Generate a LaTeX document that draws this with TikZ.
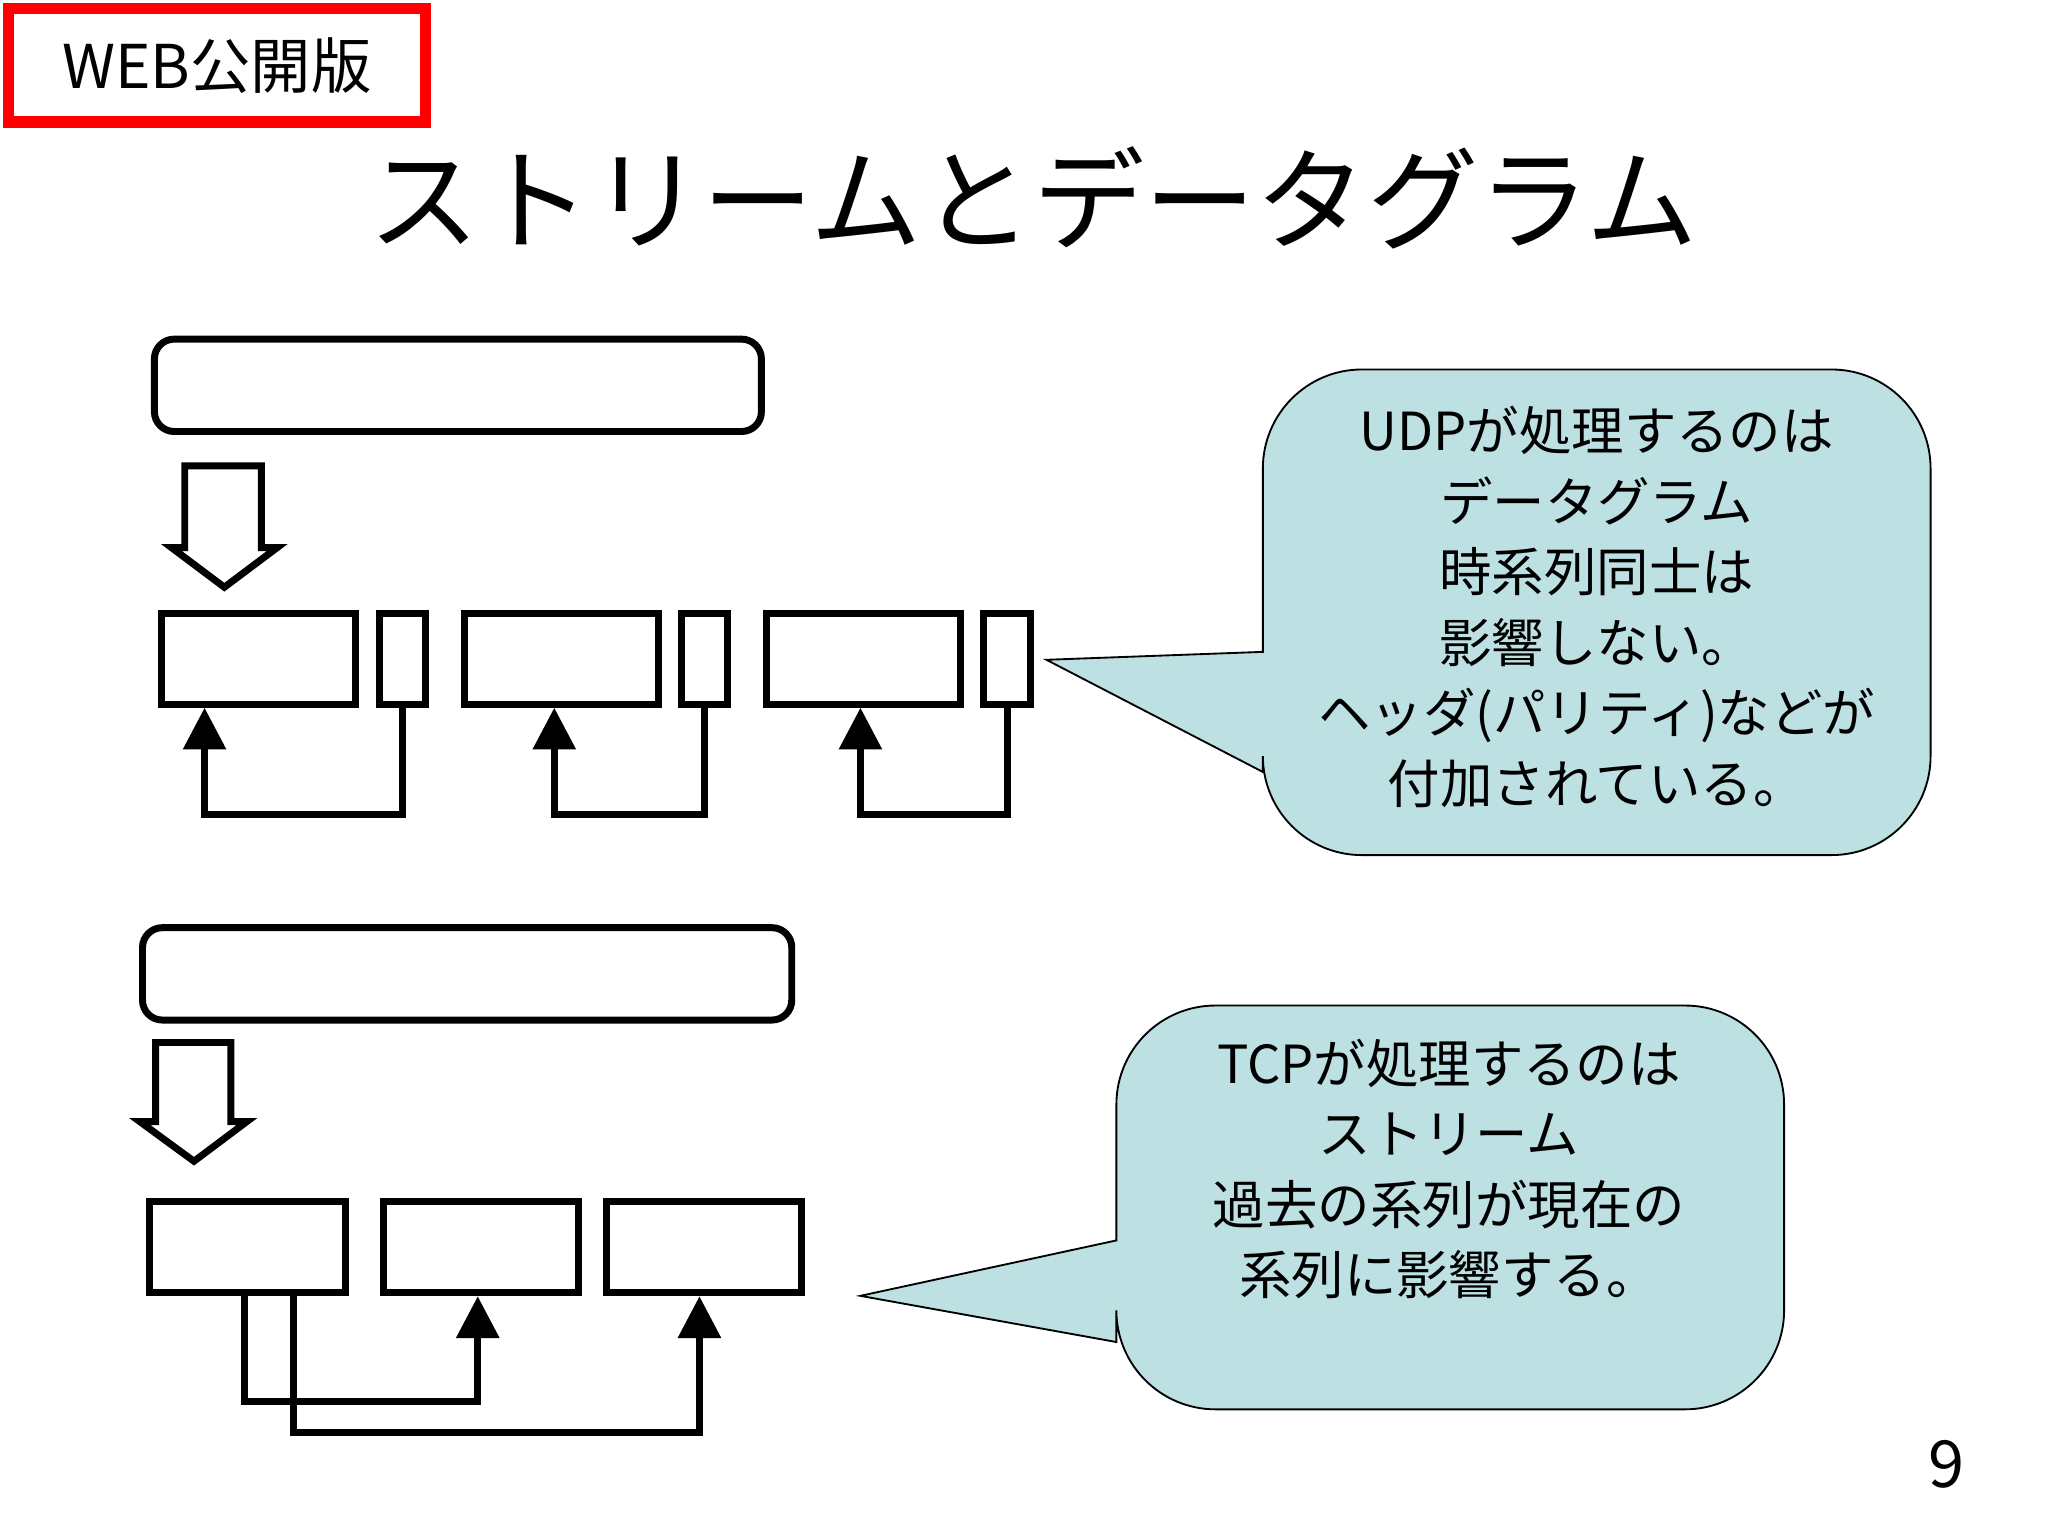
\documentclass[tikz,border=0pt]{standalone}
\usepackage{fontspec}
\setmainfont{Noto Sans CJK JP}
\usetikzlibrary{arrows.meta}
\begin{document}
\begin{tikzpicture}[x=0.01cm,y=-0.01cm,
  thk/.style={line width=1.5pt},
  blk/.style={thk,draw,inner sep=0,anchor=north west,minimum height=0.69cm},
  fb/.style={thk,-{Triangle[length=9pt,width=9pt]}},
  call/.style={draw,thin,fill=calloutblue},
  ctext/.style={align=center,font=\fontsize{11.3}{15.2}\selectfont}]
\definecolor{calloutblue}{HTML}{BDE0E3}
\useasboundingbox (0,0) rectangle (1552,1164);
% WEB label
\node[draw=red,line width=2.5pt,minimum width=3.16cm,minimum height=0.86cm,anchor=north west,inner sep=0,font=\fontsize{13}{15}\selectfont] (web) at (2,2) {WEB公開版};
\node[font=\fontsize{24}{30}\selectfont] (title) at (783,150) {ストリームとデータグラム};
% top part
\draw[thk,rounded corners=0.15cm] (117,257) rectangle (577,327);
\draw[thk,line join=miter] (140,353) -- (198,353) -- (198,415) -- (210,415) -- (170,445) -- (130,415) -- (140,415) -- cycle;
\foreach \n/\x in {a/120,b/349,c/578}{
  \node[blk,minimum width=1.47cm] (\n) at (\x,462) {};
  \node[blk,minimum width=0.35cm] (\n s) at (\x+165,462) {};
}
\draw[fb] (as.south) -- ++(0,81) -| ([xshift=0.35cm]a.south west);
\draw[fb] (bs.south) -- ++(0,81) -| ([xshift=0.71cm]b.south west);
\draw[fb] (cs.south) -- ++(0,81) -| ([xshift=0.74cm]c.south west);
\draw[call] (793,500) -- (957,585) [rounded corners=0.75cm] -- (957,648) -- (1463,648) -- (1463,280) -- (957,280) [sharp corners] -- (957,494) -- cycle;
\node[ctext] (t1) at (1210,460) {UDPが処理するのは\\データグラム\\時系列同士は\\影響しない。\\ヘッダ(パリティ)などが\\付加されている。};
% bottom part
\draw[thk,rounded corners=0.15cm] (108,703) rectangle (600,773);
\draw[thk,line join=miter] (118,790) -- (175,790) -- (175,850) -- (187,850) -- (147,880) -- (106,850) -- (118,850) -- cycle;
\node[blk,minimum width=1.48cm] (d) at (111,908) {};
\node[blk,minimum width=1.48cm] (e) at (288,908) {};
\node[blk,minimum width=1.48cm] (f) at (457,908) {};
\draw[fb] ([xshift=0.74cm]d.south west) -- ++(0,80) -| ([xshift=0.74cm]e.south west);
\draw[fb] ([xshift=1.11cm]d.south west) -- ++(0,103) -| ([xshift=0.73cm]f.south west);
\draw[call] (652,982) -- (846,1017) [rounded corners=0.75cm] -- (846,1068) -- (1352,1068) -- (1352,762) -- (846,762) [sharp corners] -- (846,940) -- cycle;
\node[ctext] (t2) at (1098,886) {TCPが処理するのは\\ストリーム\\過去の系列が現在の\\系列に影響する。};
\node[font=\fontsize{14}{16}\selectfont] (pg) at (1475,1110) {9};
\end{tikzpicture}
\end{document}
